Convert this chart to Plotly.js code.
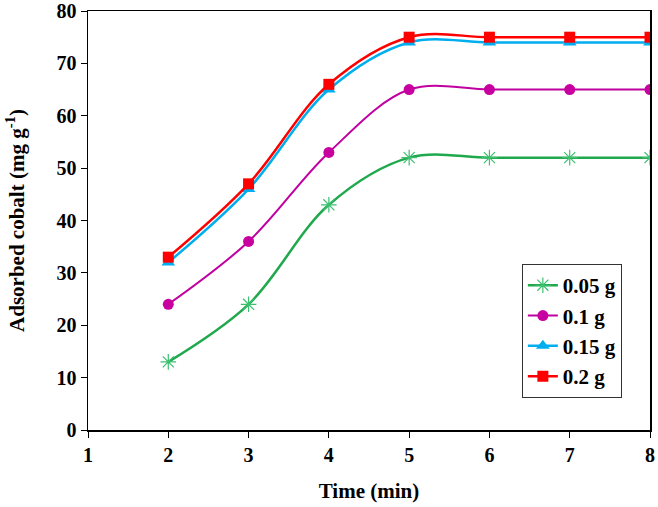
<!DOCTYPE html>
<html><head><meta charset="utf-8">
<script src="https://cdn.plot.ly/plotly-3.0.1.min.js"></script>
<style>body{margin:0;background:#fff}#c{width:658px;height:507px}</style>
</head><body><div id="c"></div>
<script>
const time = [2, 3, 4, 5, 6, 7, 8];
const s005 = [13, 24, 43, 52, 52, 52, 52];
const s01 = [24, 36, 53, 65, 65, 65, 65];
const s015 = [32, 46, 65, 74, 74, 74, 74];
const s02 = [33, 47, 66, 75, 75, 75, 75];
const names = ['0.05 g', '0.1 g', '0.15 g', '0.2 g'];
const xTicks = [1, 2, 3, 4, 5, 6, 7, 8];
const yTicks = [0, 10, 20, 30, 40, 50, 60, 70, 80];

function tr(y, name, color, sym, size, mcolor, lw) {
  return {x: time, y: y, name: name, type: 'scatter', mode: 'lines+markers',
    line: {color: color, width: lw, shape: 'spline', smoothing: 1},
    marker: {symbol: sym, size: size, color: mcolor, line: {color: mcolor, width: sym.indexOf('open') >= 0 ? 1.2 : 0}}};
}
const data = [
  tr(s005, names[0], '#1FA84C', 'asterisk-open', 13, '#3CC070', 2.5),
  tr(s01, names[1], '#C0009F', 'circle', 11, '#C8009F', 2),
  tr(s015, names[2], '#00AEEF', 'triangle-up', 12, '#00AEEF', 2.5),
  tr(s02, names[3], '#FF0000', 'square', 11, '#FF0000', 2.5)
];
const ff = 'Liberation Serif, Times New Roman, serif';
const layout = {
  width: 658, height: 507,
  margin: {l: 88, r: 8, t: 11, b: 77},
  paper_bgcolor: '#fff', plot_bgcolor: '#fff',
  showlegend: true,
  font: {family: ff, color: '#000'},
  xaxis: {range: [1, 8], tickvals: xTicks, ticktext: xTicks.map(String),
    showline: true, linecolor: '#000', linewidth: 1.5, mirror: true, automargin: false,
    ticks: 'outside', ticklen: 6, tickcolor: '#000', showgrid: false, zeroline: false,
    tickfont: {family: ff, size: 20, color: '#000', weight: 'bold'},
    title: {text: '<b>Time (min)</b>', font: {family: ff, size: 21, color: '#000'}, standoff: 19}},
  yaxis: {range: [0, 80], tickvals: yTicks, ticktext: yTicks.map(String),
    showline: true, linecolor: '#000', linewidth: 1.5, mirror: true, automargin: false,
    ticks: 'outside', ticklen: 6, tickcolor: '#000', showgrid: false, zeroline: false,
    tickfont: {family: ff, size: 20, color: '#000', weight: 'bold'},
    title: {text: '<b>Adsorbed cobalt (mg g<sup>-1</sup>)</b>', font: {family: ff, size: 21, color: '#000'}, standoff: 26}},
  legend: {x: 0.772, y: 0.396, xanchor: 'left', yanchor: 'top',
    bordercolor: '#333', borderwidth: 1, bgcolor: '#fff',
    font: {family: ff, size: 21, color: '#000', weight: 'bold'},
    tracegroupgap: 0, itemwidth: 30}
};
Plotly.newPlot('c', data, layout, {displayModeBar: false, staticPlot: true});
</script></body></html>
